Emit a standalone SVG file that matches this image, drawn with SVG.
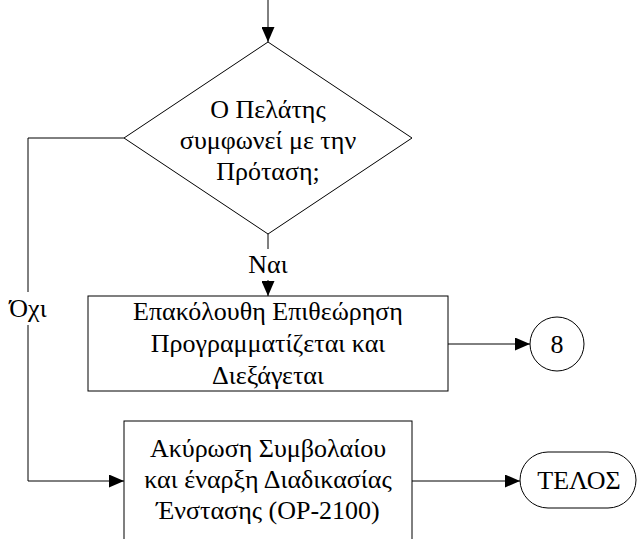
<svg xmlns="http://www.w3.org/2000/svg" width="637" height="539" viewBox="0 0 637 539">
<style>
  .shape { fill: #fff; stroke: #000; stroke-width: 1; }
  .conn { fill: none; stroke: #000; stroke-width: 1; }
  text { font-family: 'Liberation Serif', 'Times New Roman', serif; font-size: 26px; fill: #000; text-anchor: middle; }
  .lblbg { fill: #fff; stroke: none; }
</style>
<defs>
  <marker id="arrow" viewBox="0 0 15 13" refX="15" refY="6.5" markerWidth="15" markerHeight="13" markerUnits="userSpaceOnUse" orient="auto">
    <path d="M0,0 L15,6.5 L0,13 z" fill="#000"/>
  </marker>
</defs>
<rect width="637" height="539" fill="#fff"/>
<g id="connectors">
  <path class="conn" d="M268,0 V42" marker-end="url(#arrow)"/>
  <path class="conn" d="M268,234 V296" marker-end="url(#arrow)"/>
  <path class="conn" d="M124,138 H28 V481 H124" marker-end="url(#arrow)"/>
  <path class="conn" d="M448,344 H530" marker-end="url(#arrow)"/>
  <path class="conn" d="M412,481 H520" marker-end="url(#arrow)"/>
  <g id="label-yes">
    <rect class="lblbg" x="247" y="249" width="42" height="31"/>
    <text x="268" y="273">Ναι</text>
  </g>
  <g id="label-no">
    <rect class="lblbg" x="7" y="292" width="42" height="33"/>
    <text x="28" y="317">Όχι</text>
  </g>
</g>
<g id="decision">
  <polygon class="shape" points="268,42 412,138 268,234 124,138"/>
  <text x="268" y="118">Ο Πελάτης</text>
  <text x="268" y="149">συμφωνεί με την</text>
  <text x="268" y="180">Πρόταση;</text>
</g>
<g id="review">
  <rect class="shape" x="88" y="296" width="360" height="95"/>
  <text x="268" y="320">Επακόλουθη Επιθεώρηση</text>
  <text x="268" y="352">Προγραμματίζεται και</text>
  <text x="268" y="384">Διεξάγεται</text>
</g>
<g id="connector-8">
  <circle class="shape" cx="557" cy="344" r="27"/>
  <text x="557" y="353">8</text>
</g>
<g id="cancel">
  <rect class="shape" x="124" y="421" width="288" height="130"/>
  <text x="268" y="457">Ακύρωση Συμβολαίου</text>
  <text x="268" y="488">και έναρξη Διαδικασίας</text>
  <text x="268" y="519">Ένστασης (ΟΡ-2100)</text>
</g>
<g id="end">
  <rect class="shape" x="520" y="452" width="116" height="56" rx="28" ry="28"/>
  <text x="579" y="489">ΤΕΛΟΣ</text>
</g>
</svg>
